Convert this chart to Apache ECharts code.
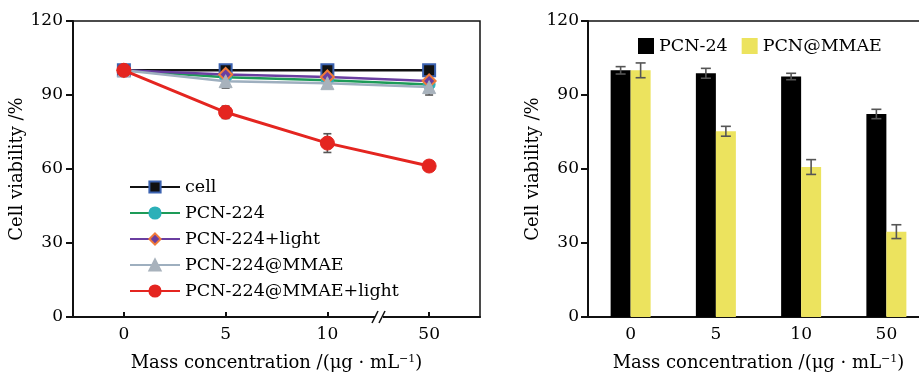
<!DOCTYPE html>
<html>
<head>
<meta charset="utf-8">
<script src="https://cdn.jsdelivr.net/npm/echarts@6/dist/echarts.min.js"></script>
<style>html,body{margin:0;padding:0;background:#fff}#c{width:919px;height:374px}</style>
</head>
<body>
<div id="c"></div>
<script>
// ---- data ----
const lineCats = ['0', '5', '10', '50'];
const cellVals = [100, 100, 100, 100];
const cellErr = [0.6, 0.6, 0.6, 0.6];
const pcnVals = [100, 97.2, 96.0, 94.3];
const pcnErr = [0.6, 1.2, 1.0, 1.2];
const pcnLightVals = [100, 98.3, 97.3, 95.7];
const pcnLightErr = [0.6, 1.0, 1.0, 1.0];
const mmaeVals = [100, 95.6, 94.8, 93.2];
const mmaeErr = [0.6, 2.8, 1.5, 3.2];
const mmaeLightVals = [100, 83.0, 70.5, 61.2];
const mmaeLightErr = [0.6, 2.5, 3.8, 1.2];

const barCats = ['0', '5', '10', '50'];
const pcn24Vals = [100, 98.8, 97.5, 82.3];
const pcn24Err = [1.5, 2.0, 1.3, 1.9];
const pcnMmaeVals = [100, 75.3, 60.8, 34.6];
const pcnMmaeErr = [3.0, 2.0, 3.0, 2.8];

const yTicks = [0, 30, 60, 90, 120];

// ---- helpers ----
const FONT = 'DejaVu Serif';
const TXT = '#000';
const BAR_W = 20;
function errData(vals, errs) {
  return vals.map((v, i) => [i, v - errs[i], v + errs[i]]);
}
function errSeries(xi, yi, vals, errs, offset, cap, z) {
  return {
    type: 'custom', xAxisIndex: xi, yAxisIndex: yi, z: z,
    silent: true,
    data: errData(vals, errs),
    encode: { x: 0, y: [1, 2] },
    renderItem: function (params, api) {
      const i = api.value(0);
      const lo = api.coord([i, api.value(1)]);
      const hi = api.coord([i, api.value(2)]);
      const x = lo[0] + offset;
      const st = { stroke: '#555', lineWidth: 1.6 };
      return {
        type: 'group', children: [
          { type: 'line', shape: { x1: x, y1: lo[1], x2: x, y2: hi[1] }, style: st },
          { type: 'line', shape: { x1: x - cap, y1: lo[1], x2: x + cap, y2: lo[1] }, style: st },
          { type: 'line', shape: { x1: x - cap, y1: hi[1], x2: x + cap, y2: hi[1] }, style: st }
        ]
      };
    }
  };
}
function yAxisCfg(gi, gap, margin) {
  return {
    type: 'value', gridIndex: gi, min: 0, max: 120, interval: 30,
    name: 'Cell viability /%', nameLocation: 'middle', nameGap: gap,
    nameTextStyle: { fontFamily: FONT, fontSize: 18, color: TXT },
    axisLine: { show: true, lineStyle: { color: '#111', width: 2 } },
    axisTick: { show: true, inside: false, length: 7, lineStyle: { color: '#111', width: 2 } },
    axisLabel: { fontFamily: FONT, fontSize: 17, color: TXT, margin: margin,
      formatter: v => yTicks.indexOf(v) >= 0 ? String(v) : '' },
    splitLine: { show: false }
  };
}
function xAxisCfg(gi, cats, showTicks, gap) {
  return {
    type: 'category', gridIndex: gi, data: cats, boundaryGap: true,
    name: '{a|Mass concentration /(μg · mL}{s|−1}{a|)}', nameLocation: 'middle', nameGap: gap,
    nameTextStyle: { rich: {
      a: { fontFamily: FONT, fontSize: 18, color: TXT },
      s: { fontFamily: FONT, fontSize: 11, color: TXT, verticalAlign: 'top', padding: [0, 0, 8, 0] }
    } },
    axisLine: { show: true, lineStyle: { color: '#111', width: 2 } },
    axisTick: { show: showTicks, inside: true, alignWithLabel: true, length: 5, lineStyle: { color: '#111', width: 2 } },
    axisLabel: { fontFamily: FONT, fontSize: 17, color: TXT, margin: 9 },
    splitLine: { show: false }
  };
}

const lineDefs = [
  { name: 'cell', vals: cellVals, err: cellErr, line: '#111111', symbol: 'rect', size: 12,
    fill: '#111111', border: '#3b62b0', bw: 2, lw: 2.5 },
  { name: 'PCN-224', vals: pcnVals, err: pcnErr, line: '#1d9b58', symbol: 'circle', size: 12,
    fill: '#2cb0b8', border: '#2cb0b8', bw: 1, lw: 2.5 },
  { name: 'PCN-224+light', vals: pcnLightVals, err: pcnLightErr, line: '#6a3ea0', symbol: 'diamond', size: 13,
    fill: '#6a3ea0', border: '#f07a3a', bw: 2, lw: 2.5 },
  { name: 'PCN-224@MMAE', vals: mmaeVals, err: mmaeErr, line: '#9eafbf', symbol: 'triangle', size: 13,
    fill: '#a8b2bc', border: '#a8b2bc', bw: 1, lw: 2.5 },
  { name: 'PCN-224@MMAE+light', vals: mmaeLightVals, err: mmaeLightErr, line: '#e42520', symbol: 'circle', size: 14,
    fill: '#e42520', border: '#e42520', bw: 1, lw: 3 }
];

const series = [];
lineDefs.forEach((d, k) => {
  series.push(errSeries(0, 0, d.vals, d.err, 0, 4, 1));
});
lineDefs.forEach((d, k) => {
  series.push({
    type: 'line', name: d.name, xAxisIndex: 0, yAxisIndex: 0, z: 3 + k,
    data: d.vals, symbol: d.symbol, symbolSize: d.size, showSymbol: true,
    lineStyle: { color: d.line, width: d.lw },
    itemStyle: { color: d.fill, borderColor: d.border, borderWidth: d.bw },
    color: d.line
  });
});
series.push({
  type: 'bar', name: 'PCN-24', xAxisIndex: 1, yAxisIndex: 1, data: pcn24Vals,
  barWidth: BAR_W, barGap: '0%', itemStyle: { color: '#000000' }, z: 2
});
series.push({
  type: 'bar', name: 'PCN@MMAE', xAxisIndex: 1, yAxisIndex: 1, data: pcnMmaeVals,
  barWidth: BAR_W, barGap: '0%', itemStyle: { color: '#ece35e' }, z: 2
});
series.push(errSeries(1, 1, pcn24Vals, pcn24Err, -BAR_W / 2, 5, 5));
series.push(errSeries(1, 1, pcnMmaeVals, pcnMmaeErr, BAR_W / 2, 5, 5));

const chart = echarts.init(document.getElementById('c'), null, { renderer: 'canvas' });
chart.setOption({
  backgroundColor: '#fff',
  animation: false,
  grid: [
    { left: 73, top: 21, width: 407, height: 296, show: true, borderColor: '#111', borderWidth: 1.5,
      backgroundColor: 'transparent', containLabel: false, outerBoundsMode: 'none' },
    { left: 588, top: 21, width: 341, height: 296, show: true, borderColor: '#111', borderWidth: 1.5,
      backgroundColor: 'transparent', containLabel: false, outerBoundsMode: 'none' }
  ],
  xAxis: [xAxisCfg(0, lineCats, true, 37), xAxisCfg(1, barCats, false, 37)],
  yAxis: [yAxisCfg(0, 41, 10), yAxisCfg(1, 37, 9)],
  legend: [
    {
      orient: 'vertical', left: 129, top: 178, padding: 0, itemWidth: 50, itemHeight: 14, itemGap: 8,
      data: lineDefs.map(d => d.name),
      textStyle: { fontFamily: FONT, fontSize: 17.5, color: TXT, lineHeight: 18 }
    },
    {
      orient: 'horizontal', left: 638, top: 37, padding: 0, itemWidth: 16, itemHeight: 16, itemGap: 14,
      icon: 'rect', data: ['PCN-24', 'PCN@MMAE'],
      textStyle: { fontFamily: FONT, fontSize: 17.5, color: TXT }
    }
  ],
  graphic: [
    { type: 'rect', shape: { x: 375, y: 314, width: 8, height: 6 }, style: { fill: '#fff' }, z: 100 },
    { type: 'line', shape: { x1: 372, y1: 323, x2: 378, y2: 311 }, style: { stroke: '#111', lineWidth: 1.5 }, z: 101 },
    { type: 'line', shape: { x1: 379, y1: 323, x2: 385, y2: 311 }, style: { stroke: '#111', lineWidth: 1.5 }, z: 101 }
  ],
  series: series
});
</script>
</body>
</html>
